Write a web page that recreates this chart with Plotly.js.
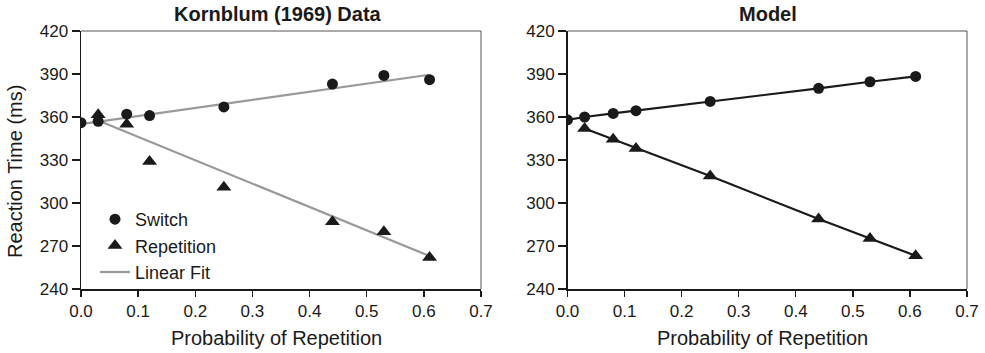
<!DOCTYPE html>
<html>
<head>
<meta charset="utf-8">
<script src="https://cdn.plot.ly/plotly-3.0.1.min.js"></script>
<style>html,body{margin:0;padding:0;background:#fff;}#chart{width:985px;height:353px;}</style>
</head>
<body>
<div id="chart"></div>
<script>
// Probability of repetition (x values)
const probSwitch = [0, 0.03, 0.08, 0.12, 0.25, 0.44, 0.53, 0.61];
const probRep = [0.03, 0.08, 0.12, 0.25, 0.44, 0.53, 0.61];

// Kornblum (1969) data
const dataSwitchRT = [356, 357, 362, 361, 367, 383, 389, 386];
const dataRepRT = [361.5, 355, 329, 311, 287, 280, 262];

// Linear fits to the data (endpoints)
const fitSwitchX = [0, 0.61];
const fitSwitchRT = [355, 389.5];
const fitRepX = [0.03, 0.61];
const fitRepRT = [357.5, 263];

// Model predictions
const modelSwitchRT = [358, 360, 362.5, 364.4, 370.9, 380, 384.6, 388.3];
const modelRepRT = [352, 344.5, 338, 318.8, 288.8, 275.3, 263.2];

const xTicks = [0, 0.1, 0.2, 0.3, 0.4, 0.5, 0.6, 0.7];
const xTickText = ['0.0', '0.1', '0.2', '0.3', '0.4', '0.5', '0.6', '0.7'];
const yTicks = [240, 270, 300, 330, 360, 390, 420];

const ink = '#1a1a1a';
const fitGrey = '#999999';

const traces = [
  {x: fitSwitchX, y: fitSwitchRT, mode: 'lines', line: {color: fitGrey, width: 2.2},
   name: 'Linear Fit', legendgroup: 'c', legendrank: 3, showlegend: true, xaxis: 'x', yaxis: 'y'},
  {x: fitRepX, y: fitRepRT, mode: 'lines', line: {color: fitGrey, width: 2.2},
   name: 'Linear Fit', legendgroup: 'c', showlegend: false, xaxis: 'x', yaxis: 'y'},
  {x: probSwitch, y: dataSwitchRT, mode: 'markers', marker: {symbol: 'circle', size: 11, color: ink},
   name: 'Switch', legendgroup: 'a', legendrank: 1, xaxis: 'x', yaxis: 'y'},
  {x: probRep, y: dataRepRT, mode: 'markers', marker: {symbol: 'triangle-up', size: 13, color: ink},
   name: 'Repetition', legendgroup: 'b', legendrank: 2, xaxis: 'x', yaxis: 'y'},
  {x: probSwitch, y: modelSwitchRT, mode: 'lines+markers', line: {color: ink, width: 2.2},
   marker: {symbol: 'circle', size: 11, color: ink}, showlegend: false, name: 'Model Switch', xaxis: 'x2', yaxis: 'y2'},
  {x: probRep, y: modelRepRT, mode: 'lines+markers', line: {color: ink, width: 2.2},
   marker: {symbol: 'triangle-up', size: 13, color: ink}, showlegend: false, name: 'Model Repetition', xaxis: 'x2', yaxis: 'y2'}
];

const W = 985, H = 353;
const px = v => v / W;
const py = v => (H - v) / H;
const font = 'Liberation Sans, Arial, sans-serif';

function xAxis(domain, anchor) {
  return {domain: domain, anchor: anchor, range: [0, 0.7], tickvals: xTicks, ticktext: xTickText,
    ticks: 'outside', ticklen: 6, tickwidth: 1.3, tickcolor: ink, showline: true, linecolor: ink, linewidth: 1.5,
    showgrid: false, zeroline: false, tickfont: {family: font, size: 17, color: ink},
    fixedrange: true};
}
function yAxis(domain, anchor) {
  return {domain: domain, anchor: anchor, range: [240, 420], tickvals: yTicks,
    ticks: 'outside', ticklen: 8, tickwidth: 1.3, tickcolor: ink, showline: true, linecolor: ink, linewidth: 1.5,
    showgrid: false, zeroline: false, tickfont: {family: font, size: 17, color: ink},
    fixedrange: true};
}

const yDom = [py(289), py(31)];

const layout = {
  width: W, height: H,
  margin: {l: 0, r: 0, t: 0, b: 0},
  paper_bgcolor: '#fff', plot_bgcolor: '#fff',
  font: {family: font, color: ink},
  xaxis: xAxis([px(81), px(481)], 'y'),
  yaxis: yAxis(yDom, 'x'),
  xaxis2: xAxis([px(567.5), px(967)], 'y2'),
  yaxis2: yAxis(yDom, 'x2'),
  showlegend: true,
  legend: {x: px(95), y: py(201), xanchor: 'left', yanchor: 'top', bgcolor: 'rgba(0,0,0,0)',
    font: {family: font, size: 18, color: ink}, traceorder: 'grouped', tracegroupgap: 0},
  shapes: [
    {type: 'line', xref: 'x domain', yref: 'y domain', x0: 0, x1: 1, y0: 1, y1: 1, line: {color: '#555', width: 1}},
    {type: 'line', xref: 'x domain', yref: 'y domain', x0: 1, x1: 1, y0: 0, y1: 1, line: {color: '#555', width: 1}},
    {type: 'line', xref: 'x2 domain', yref: 'y2 domain', x0: 0, x1: 1, y0: 1, y1: 1, line: {color: '#555', width: 1}},
    {type: 'line', xref: 'x2 domain', yref: 'y2 domain', x0: 1, x1: 1, y0: 0, y1: 1, line: {color: '#555', width: 1}}
  ],
  annotations: [
    {text: '<b>Kornblum (1969) Data</b>', xref: 'paper', yref: 'paper', x: px(278), y: py(14),
     xanchor: 'center', yanchor: 'middle', showarrow: false, font: {family: font, size: 20, color: ink}},
    {text: '<b>Model</b>', xref: 'paper', yref: 'paper', x: px(768), y: py(14),
     xanchor: 'center', yanchor: 'middle', showarrow: false, font: {family: font, size: 20, color: ink}},
    {text: 'Probability of Repetition', xref: 'paper', yref: 'paper', x: px(276), y: py(338),
     xanchor: 'center', yanchor: 'middle', showarrow: false, font: {family: font, size: 20, color: ink}},
    {text: 'Probability of Repetition', xref: 'paper', yref: 'paper', x: px(762), y: py(338),
     xanchor: 'center', yanchor: 'middle', showarrow: false, font: {family: font, size: 20, color: ink}},
    {text: 'Reaction Time (ms)', xref: 'paper', yref: 'paper', x: px(15), y: py(172), textangle: -90,
     xanchor: 'center', yanchor: 'middle', showarrow: false, font: {family: font, size: 20, color: ink}}
  ]
};

Plotly.newPlot('chart', traces, layout, {displayModeBar: false, staticPlot: true});
</script>
</body>
</html>
